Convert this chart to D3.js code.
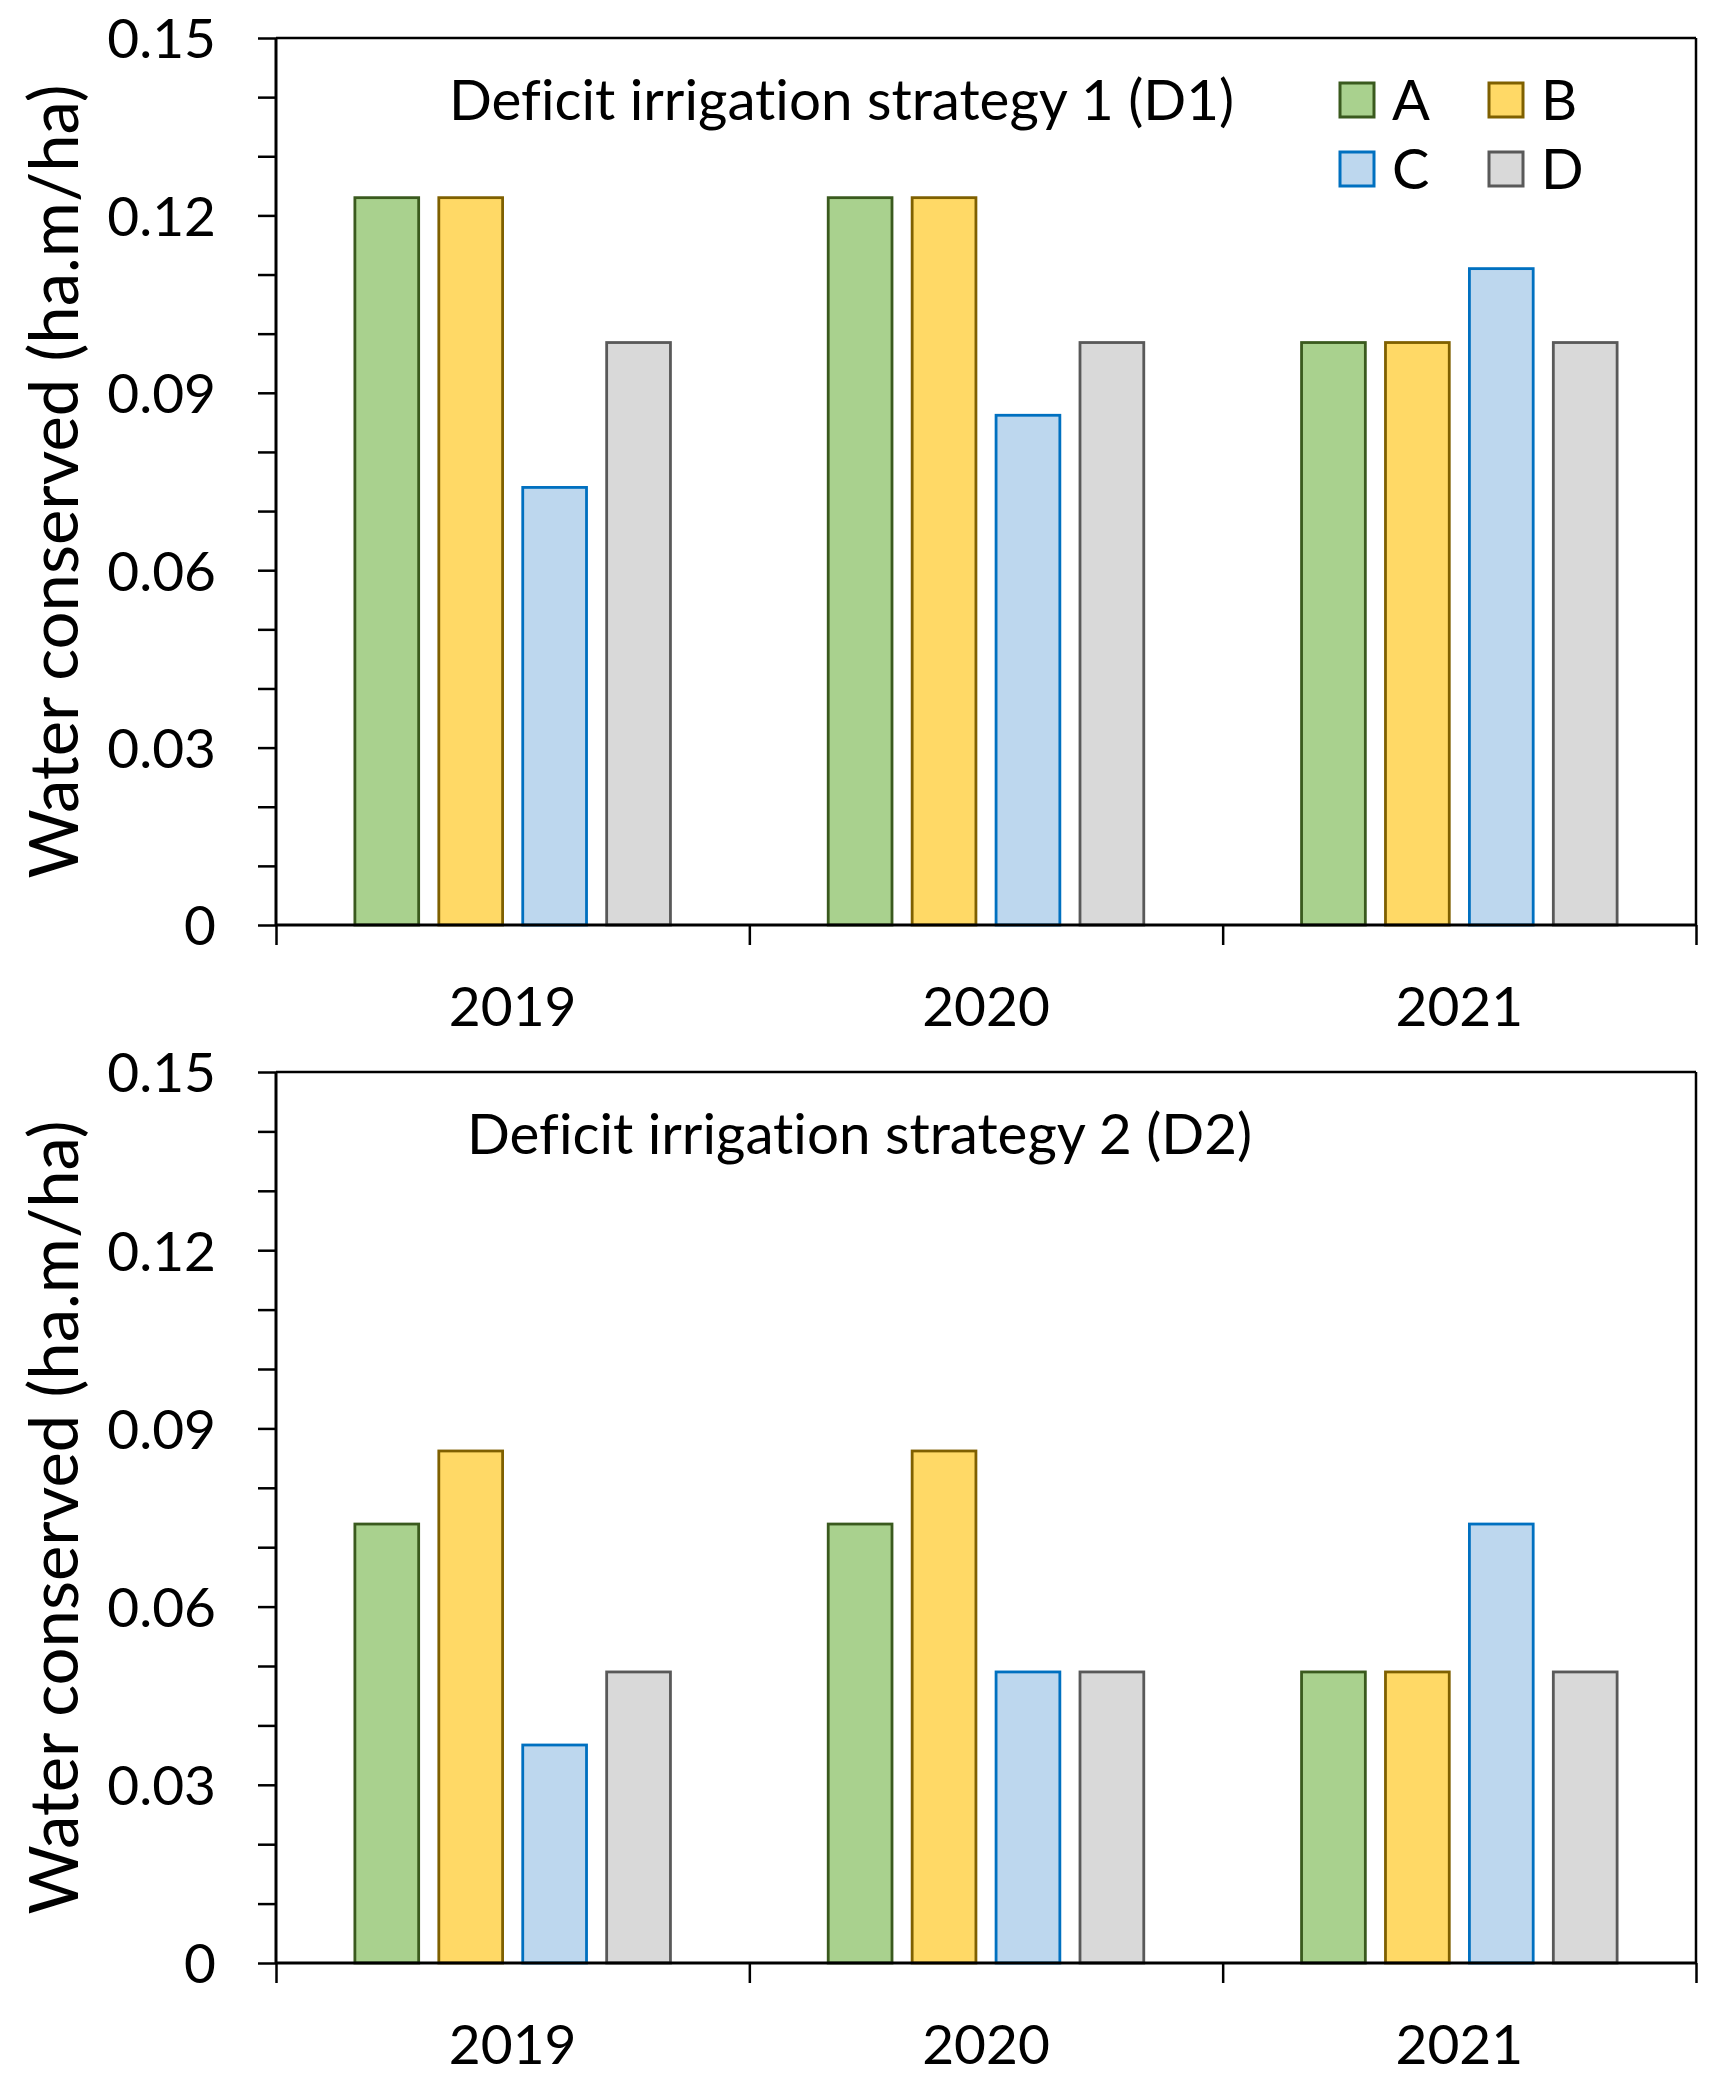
<!DOCTYPE html>
<html>
<head>
<meta charset="utf-8">
<script src="https://cdn.jsdelivr.net/npm/d3@7"></script>
<style>
  body { margin: 0; background: #fff; }
  text { font-family: Lato, "Open Sans", sans-serif; fill: #000; font-variant-ligatures: none; font-feature-settings: "liga" 0; }
</style>
</head>
<body>
<div id="chart"></div>
<script>
// Data
var years = ["2019", "2020", "2021"];
var treatments = ["A", "B", "C", "D"];

// Deficit irrigation strategy 1 (D1)
var d1A = [0.123, 0.123, 0.0985];
var d1B = [0.123, 0.123, 0.0985];
var d1C = [0.074, 0.0862, 0.111];
var d1D = [0.0985, 0.0985, 0.0985];

// Deficit irrigation strategy 2 (D2)
var d2A = [0.0739, 0.0739, 0.049];
var d2B = [0.0862, 0.0862, 0.049];
var d2C = [0.0367, 0.049, 0.0739];
var d2D = [0.049, 0.049, 0.049];

var yTicks = [0, 0.03, 0.06, 0.09, 0.12, 0.15];
var yMinorTicks = [0.01, 0.02, 0.04, 0.05, 0.07, 0.08, 0.1, 0.11, 0.13, 0.14];

var fills = { A: "#a9d18e", B: "#ffd966", C: "#bdd7ee", D: "#d9d9d9" };
var strokes = { A: "#3a5a1e", B: "#7f6000", C: "#0070c0", D: "#595959" };

var svgWidth = 1720;
var svgHeight = 2084;

var svg = d3.select("#chart")
    .append("svg")
    .attr("width", svgWidth)
    .attr("height", svgHeight);

function drawPanel(top, height, series, title, titleX, showLegend) {
    var left = 276;
    var width = 1696 - left;

    var g = svg.append("g")
        .attr("transform", `translate(${left}, ${top})`);

    var x = d3.scaleBand()
        .domain(years)
        .range([0, width]);

    var xInner = d3.scaleBand()
        .domain(treatments)
        .range([0, x.bandwidth()])
        .paddingInner(0.24)
        .paddingOuter(0.94);

    var y = d3.scaleLinear()
        .domain([0, 0.15])
        .range([height, 0]);

    // bars
    var rows = [];
    years.forEach(function(yr, i) {
        treatments.forEach(function(t) {
            rows.push({ year: yr, t: t, v: series[t][i] });
        });
    });

    g.selectAll("rect.bar")
        .data(rows)
        .enter()
        .append("rect")
        .attr("class", "bar")
        .attr("x", d => x(d.year) + xInner(d.t))
        .attr("y", d => y(d.v))
        .attr("width", xInner.bandwidth())
        .attr("height", d => height - y(d.v))
        .attr("fill", d => fills[d.t])
        .attr("stroke", d => strokes[d.t])
        .attr("stroke-width", 2.8);

    // minor y ticks
    g.append("g")
        .call(d3.axisLeft(y).tickValues(yMinorTicks).tickSize(18).tickFormat(""))
        .call(a => a.select(".domain").remove())
        .selectAll("line").attr("stroke-width", 2.5);

    // major y ticks
    var yAxis = g.append("g")
        .call(d3.axisLeft(y)
            .tickValues(yTicks)
            .tickSize(18)
            .tickPadding(42)
            .tickFormat(d => d === 0 ? "0" : d.toFixed(2)));
    yAxis.select(".domain").remove();
    yAxis.selectAll("line").attr("stroke-width", 2.5);
    yAxis.selectAll("text")
        .attr("font-size", "55px")
        .attr("font-family", "Lato, 'Open Sans', sans-serif")
        .attr("dy", "0.36em");

    // category boundary ticks
    var xEdge = d3.scaleLinear().domain([0, 3]).range([0, width]);
    var xTickAxis = g.append("g")
        .attr("transform", `translate(0, ${height})`)
        .call(d3.axisBottom(xEdge).tickValues([0, 1, 2, 3]).tickSize(20).tickFormat(""));
    xTickAxis.select(".domain").remove();
    xTickAxis.selectAll("line").attr("stroke-width", 2.5);

    // year labels
    var xAxis = g.append("g")
        .attr("transform", `translate(0, ${height})`)
        .call(d3.axisBottom(x).tickSize(0).tickPadding(62));
    xAxis.select(".domain").remove();
    xAxis.selectAll("text")
        .attr("font-size", "55px")
        .attr("font-family", "Lato, 'Open Sans', sans-serif");

    // frame
    g.append("line")
        .attr("x1", 0).attr("x2", width)
        .attr("y1", height).attr("y2", height)
        .attr("stroke", "#000").attr("stroke-width", 3);
    g.append("line")
        .attr("x1", 0).attr("x2", 0)
        .attr("y1", 0).attr("y2", height)
        .attr("stroke", "#000").attr("stroke-width", 3);
    g.append("line")
        .attr("x1", 0).attr("x2", width)
        .attr("y1", 0).attr("y2", 0)
        .attr("stroke", "#000").attr("stroke-width", 2.5);
    g.append("line")
        .attr("x1", width).attr("x2", width)
        .attr("y1", 0).attr("y2", height)
        .attr("stroke", "#000").attr("stroke-width", 2.5);

    // panel title
    g.append("text")
        .attr("x", titleX - left)
        .attr("y", 82)
        .attr("font-size", "56.5px")
        .text(title);

    // y label
    g.append("text")
        .attr("transform", `translate(${78 - left}, ${height / 2}) rotate(-90)`)
        .attr("text-anchor", "middle")
        .attr("font-size", "67px")
        .text("Water conserved (ha.m/ha)");

    if (showLegend) {
        var legendPos = [
            { t: "A", x: 1340, y: 100 },
            { t: "B", x: 1489, y: 100 },
            { t: "C", x: 1340, y: 169 },
            { t: "D", x: 1489, y: 169 }
        ];
        var lg = g.append("g");
        lg.selectAll("rect")
            .data(legendPos)
            .enter()
            .append("rect")
            .attr("x", d => d.x - left)
            .attr("y", d => d.y - top - 17)
            .attr("width", 34)
            .attr("height", 34)
            .attr("fill", d => fills[d.t])
            .attr("stroke", d => strokes[d.t])
            .attr("stroke-width", 3);
        lg.selectAll("text")
            .data(legendPos)
            .enter()
            .append("text")
            .attr("x", d => d.x - left + 52)
            .attr("y", d => d.y - top)
            .attr("dy", "0.36em")
            .attr("font-size", "56px")
            .text(d => d.t);
    }
}

drawPanel(38, 887, { A: d1A, B: d1B, C: d1C, D: d1D },
    "Deficit irrigation strategy 1 (D1)", 449, true);
drawPanel(1072, 891, { A: d2A, B: d2B, C: d2C, D: d2D },
    "Deficit irrigation strategy 2 (D2)", 467, false);
</script>
</body>
</html>
